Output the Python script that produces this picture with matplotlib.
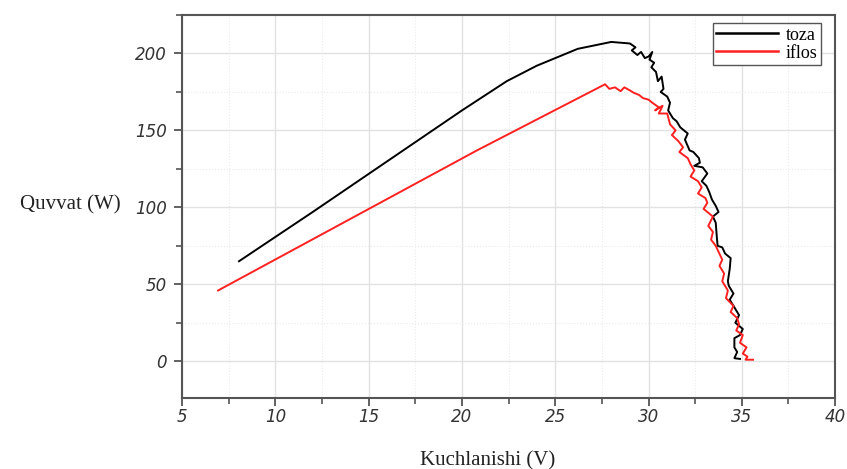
import numpy as np
import matplotlib
matplotlib.use("Agg")
import matplotlib.pyplot as plt
from matplotlib.ticker import MultipleLocator

# toza (clean panel) - voltage V, power W
toza_v = [8.05, 12.0, 16.0, 20.0, 22.4, 24.0, 25.0, 26.2, 27.4, 28.0, 28.5, 29.0,
          29.3, 29.1, 29.4, 29.6, 29.8, 30.0, 30.2, 30.05, 30.3, 30.15, 30.4, 30.5,
          30.7, 30.8, 30.65, 31.0, 31.15, 31.05, 31.3, 31.5, 31.7, 31.9, 32.1, 31.95,
          32.2, 32.4, 32.7, 32.75, 32.45, 32.9, 33.15, 32.85, 33.1, 33.25, 33.4, 33.6,
          33.75, 33.45, 33.6, 33.65, 33.7, 33.95, 34.1, 34.4, 34.35, 34.25, 34.3, 34.55,
          34.35, 34.6, 34.85, 34.65, 35.05, 34.9, 34.6, 34.6, 34.75, 34.6, 34.9]
toza_p = [65, 97, 130, 163, 182, 192, 197, 203, 206, 207.5, 207, 206.5,
          204, 202, 199, 201, 197, 198, 201, 196, 194, 191, 188, 182,
          185, 177, 175, 172, 168, 163, 158, 156, 152, 150, 148, 144,
          137, 136, 132, 129, 127, 126, 122, 117, 114, 110, 105, 101,
          97, 94, 90, 82, 75, 74, 70, 67, 60, 52, 49, 44,
          40, 35, 30, 25, 21, 17, 15, 9, 6, 2, 1.5]

# iflos (dirty panel)
iflos_v = [6.93, 20.8, 27.67, 27.9, 28.2, 28.5, 28.7, 29.0, 29.2, 29.5, 29.7, 30.0,
           30.2, 30.55, 30.35, 30.75, 30.55, 31.0, 31.15, 31.45, 31.25, 31.6, 31.85, 31.65,
           32.1, 32.25, 32.45, 32.25, 32.65, 32.85, 32.65, 33.05, 33.15, 32.95, 33.45, 33.2,
           33.45, 33.35, 33.6, 33.95, 33.8, 34.05, 33.95, 34.25, 34.15, 34.55, 34.4, 34.75,
           34.85, 34.7, 35.05, 34.9, 35.25, 35.05, 35.3, 35.2, 35.6]
iflos_p = [46, 137, 180, 177, 178, 175.5, 178, 176, 174.5, 173, 171, 170,
           168, 165, 163, 166, 161, 161, 154, 150, 147, 143, 139, 136,
           132, 128, 124, 120, 117, 113, 109, 106, 103, 99, 94, 88,
           84, 79, 75, 66, 62, 57, 52, 46, 41, 36, 32, 28,
           24, 20, 17, 12, 9, 5, 3, 1, 1]

fig = plt.figure(figsize=(8.47, 4.69), dpi=100)
ax = fig.add_axes([0.215, 0.151, 0.771, 0.817])

ax.plot(toza_v, toza_p, color="black", lw=1.4, label="toza")
ax.plot(iflos_v, iflos_p, color="#ff2020", lw=1.4, label="iflos")

ax.set_xlim(5, 40)
ax.set_ylim(-24, 225)
ax.xaxis.set_major_locator(MultipleLocator(5))
ax.xaxis.set_minor_locator(MultipleLocator(2.5))
ax.yaxis.set_major_locator(MultipleLocator(50))
ax.yaxis.set_minor_locator(MultipleLocator(25))

ax.grid(True, which="major", color="#e2e2e2", lw=1.0)
ax.grid(True, which="minor", color="#ebebeb", lw=0.8, ls=":")
ax.set_axisbelow(True)

for s in ax.spines.values():
    s.set_color("#555555")
    s.set_linewidth(1.5)
ax.tick_params(which="major", length=6, width=1.3, color="#555555", pad=5)
ax.tick_params(axis="x", which="major", pad=1)
ax.tick_params(which="minor", length=4, width=1.2, color="#555555")
ax.tick_params(top=False, right=False)
for lab in ax.get_xticklabels() + ax.get_yticklabels():
    lab.set_fontfamily("DejaVu Sans")
    lab.set_fontstyle("oblique")
    lab.set_fontsize(12)
    lab.set_color("#333333")

fig.text(0.024, 0.563, "Quvvat (W)", fontfamily="Liberation Serif", fontsize=15,
         ha="left", va="center", color="#222222")
fig.text(0.576, 0.018, "Kuchlanishi (V)", fontfamily="Liberation Serif", fontsize=15,
         ha="center", va="center", color="#222222")

leg = ax.legend(loc="upper right", bbox_to_anchor=(0.9786, 0.979), borderaxespad=0,
                prop={"family": "Liberation Serif", "size": 13},
                fancybox=False, framealpha=1, edgecolor="#555555",
                handlelength=3.4, handletextpad=0.45, borderpad=0.2,
                labelspacing=0.05)
leg.get_frame().set_linewidth(1.0)
for ln in leg.get_lines():
    ln.set_linewidth(1.8)

fig.savefig("out.png", dpi=100)
